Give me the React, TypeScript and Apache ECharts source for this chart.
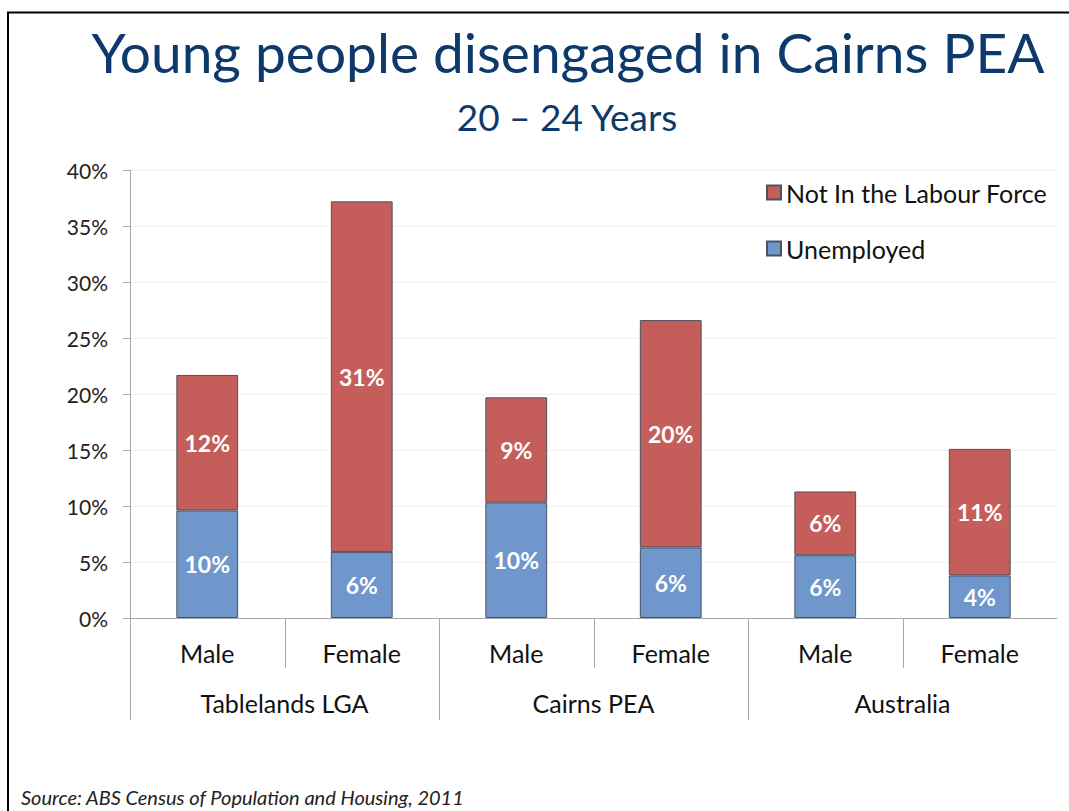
import React, { useEffect, useRef } from "react";
import * as echarts from "echarts";

const categories = ["Male", "Female", "Male", "Female", "Male", "Female"];
const groups = ["Tablelands LGA", "Cairns PEA", "Australia"];
const unemployed = [9.6, 5.9, 10.3, 6.3, 5.6, 3.8];
const notInLabourForce = [12.1, 31.3, 9.4, 20.3, 5.7, 11.3];
const seriesNames = ["Not In the Labour Force", "Unemployed"];

const FONT = "Lato, 'Open Sans', sans-serif";
const BLUE = "#6f97cb";
const RED = "#c55e5a";
const BORDER = "#4b5262";
const GRID_COLOR = "#efefef";
const AXIS_COLOR = "#a8a8a8";

export default function App() {
  const ref = useRef<HTMLDivElement>(null);
  useEffect(() => {
    if (!ref.current) return;
    const chart = echarts.init(ref.current, null, { renderer: "svg" });
    const labelOpt = {
      show: true,
      position: "inside",
      color: "#ffffff",
      fontFamily: FONT,
      fontWeight: "bold",
      fontSize: 23,
      formatter: (p: any) => Math.round(p.value) + "%",
    };
    const option: any = {
      animation: false,
      backgroundColor: "#ffffff",
      textStyle: { fontFamily: FONT },
      title: [
        {
          text: "Young people disengaged in Cairns PEA",
          left: 563,
          top: 19,
          textAlign: "center",
          textStyle: { fontFamily: FONT, fontSize: 55, fontWeight: "normal", color: "#0e3a6b" },
        },
        {
          text: "20 – 24 Years",
          left: 562,
          top: 93,
          textAlign: "center",
          textStyle: { fontFamily: FONT, fontSize: 37, fontWeight: "normal", color: "#0e3a6b" },
        },
        {
          text: "Source: ABS Census of Population and Housing, 2011",
          left: 16,
          top: 781,
          textStyle: { fontFamily: FONT, fontSize: 20, lineHeight: 22, fontWeight: "normal", fontStyle: "italic", color: "#222" },
        },
      ],
      legend: {
        data: seriesNames,
        orient: "vertical",
        left: 761,
        top: 175,
        icon: "rect",
        itemWidth: 14,
        itemHeight: 14,
        itemGap: 31,
        textStyle: { fontFamily: FONT, fontSize: 25, color: "#111" },
      },
      grid: { left: 130, right: 12, top: 170, bottom: 193, containLabel: false },
      xAxis: [
        {
          type: "category",
          data: categories,
          position: "bottom",
          axisLine: { show: true, lineStyle: { color: AXIS_COLOR, width: 1 } },
          axisTick: { show: false },
          axisLabel: { interval: 0, margin: 22, fontSize: 25, color: "#111", fontFamily: FONT },
        },
        {
          type: "category",
          data: groups,
          position: "bottom",
          axisLine: { show: false },
          axisTick: { show: false },
          axisLabel: { interval: 0, margin: 72, fontSize: 25, color: "#111", fontFamily: FONT },
        },
      ],
      yAxis: {
        type: "value",
        min: 0,
        max: 40,
        interval: 5,
        axisLine: { show: true, lineStyle: { color: AXIS_COLOR } },
        axisTick: { show: true, length: 7, lineStyle: { color: AXIS_COLOR } },
        axisLabel: { formatter: "{value}%", fontSize: 21, color: "#222", margin: 22, fontFamily: FONT },
        splitLine: { show: true, lineStyle: { color: GRID_COLOR } },
      },
      series: [
        {
          name: "Unemployed",
          type: "bar",
          stack: "total",
          barWidth: "40%",
          data: unemployed,
          itemStyle: { color: BLUE, borderColor: BORDER, borderWidth: 1 },
          label: labelOpt,
        },
        {
          name: "Not In the Labour Force",
          type: "bar",
          stack: "total",
          barWidth: "40%",
          data: notInLabourForce,
          itemStyle: { color: RED, borderColor: BORDER, borderWidth: 1 },
          label: labelOpt,
        },
      ],
    };
    chart.setOption(option);

    // separators between categories, placed from the axis scale
    const y0 = chart.convertToPixel({ yAxisIndex: 0 }, 0) as number;
    const c0 = chart.convertToPixel({ xAxisIndex: 0 }, 0) as number;
    const c1 = chart.convertToPixel({ xAxisIndex: 0 }, 1) as number;
    const band = c1 - c0;
    const graphics: any[] = [];
    for (let i = 0; i < categories.length; i++) {
      const x = Math.round(c0 + band * i - band / 2) + 0.5;
      const long = i % 2 === 0;
      graphics.push({
        type: "line",
        shape: { x1: x, y1: y0, x2: x, y2: y0 + (long ? 102 : 50) },
        style: { stroke: AXIS_COLOR, lineWidth: 1 },
        silent: true,
      });
    }
    // slide frame
    graphics.push({
      type: "line",
      shape: { x1: 7, y1: 12.5, x2: 1069, y2: 12.5 },
      style: { stroke: "#000", lineWidth: 2 },
      silent: true,
    });
    graphics.push({
      type: "line",
      shape: { x1: 8, y1: 12, x2: 8, y2: 811 },
      style: { stroke: "#000", lineWidth: 2 },
      silent: true,
    });
    chart.setOption({ graphic: graphics });

    return () => chart.dispose();
  }, []);
  return (
    <div
      ref={ref}
      style={{ position: "fixed", left: 0, top: 0, width: 1069, height: 811, background: "#fff" }}
    />
  );
}
